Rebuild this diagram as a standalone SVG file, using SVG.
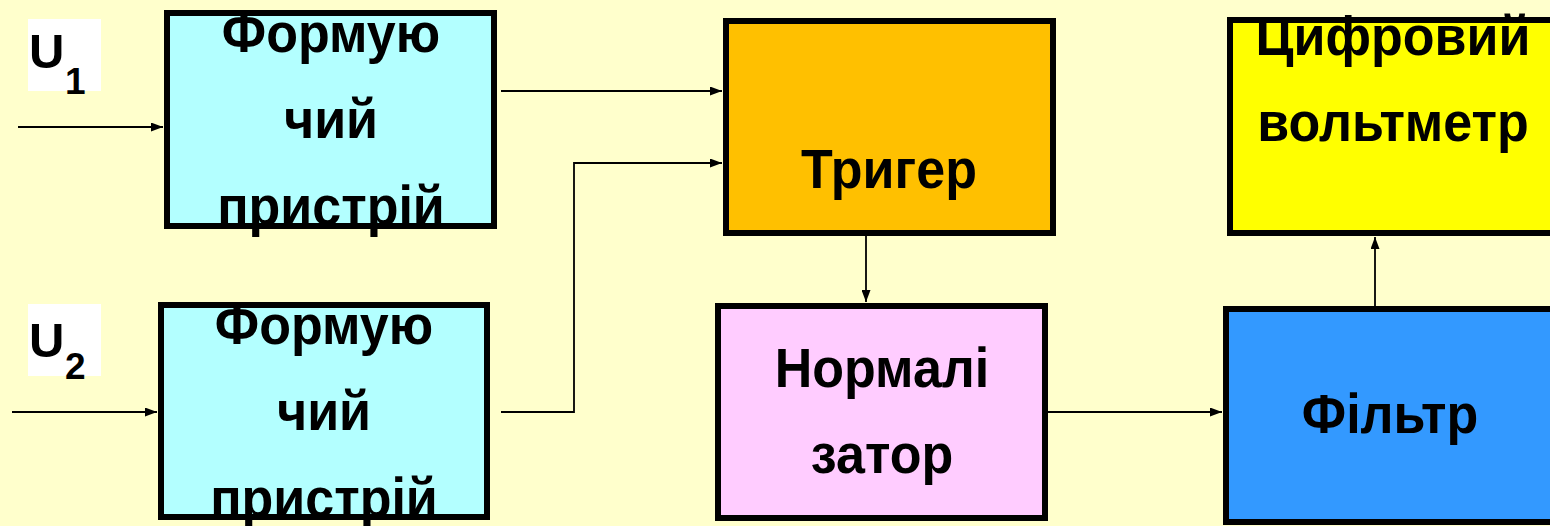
<svg xmlns="http://www.w3.org/2000/svg" width="1550" height="526" viewBox="0 0 1550 526">
<style>
.bg{fill:#FFFFCC}
.box{stroke:#000;stroke-width:6}
.border{fill:none;stroke:#000;stroke-width:6}
.t{font-family:"Liberation Sans",Arial,sans-serif;font-weight:bold;font-size:52px;fill:#000;text-anchor:middle}
.u{font-family:"Liberation Sans",Arial,sans-serif;font-weight:bold;fill:#000}
.c{fill:none;stroke:#000;stroke-width:1.8}
</style>
<defs>
<marker id="ah" markerUnits="userSpaceOnUse" markerWidth="12" markerHeight="9" refX="12" refY="4.5" orient="auto">
<path d="M0,0 L12,4.5 L0,9 z" fill="#000"/>
</marker>
</defs>
<rect class="bg" x="0" y="0" width="1550" height="526"/>

<g id="label-u1">
<rect x="28" y="19" width="73" height="72" fill="#FFFFFF"/>
<text class="u" x="29" y="68" font-size="49">U</text>
<text class="u" x="65" y="94" font-size="37">1</text>
</g>
<g id="label-u2">
<rect x="28" y="304" width="73" height="72" fill="#FFFFFF"/>
<text class="u" x="29" y="357" font-size="49">U</text>
<text class="u" x="65" y="379" font-size="37">2</text>
</g>

<g id="connectors">
<path class="c" d="M18,127 H163" marker-end="url(#ah)"/>
<path class="c" d="M12,412 H157" marker-end="url(#ah)"/>
<path class="c" d="M501,91 H722" marker-end="url(#ah)"/>
<path class="c" d="M501,412 H574 V163 H722" marker-end="url(#ah)"/>
<path class="c" d="M866,236 V302" marker-end="url(#ah)"/>
<path class="c" d="M1048,412 H1222" marker-end="url(#ah)"/>
<path class="c" d="M1375,306 V237" marker-end="url(#ah)"/>
</g>

<g id="shaper1">
<rect x="167" y="13" width="327" height="213" fill="#B3FFFF"/>
<text class="t" transform="translate(331,52) scale(1,1.07)">Формую</text>
<text class="t" transform="translate(331,138) scale(1,1.07)">чий</text>
<text class="t" transform="translate(331,225) scale(1,1.07)">пристрій</text>
<rect class="border" x="167" y="13" width="327" height="213"/>
</g>

<g id="shaper2">
<rect x="161" y="305" width="326" height="212" fill="#B3FFFF"/>
<text class="t" transform="translate(324,344) scale(1,1.07)">Формую</text>
<text class="t" transform="translate(324,430) scale(1,1.07)">чий</text>
<text class="t" transform="translate(324,517) scale(1,1.07)">пристрій</text>
<rect class="border" x="161" y="305" width="326" height="212"/>
</g>

<g id="trigger">
<rect class="box" x="726" y="21" width="327" height="212" fill="#FFC000"/>
<text class="t" transform="translate(889,188) scale(1,1.07)">Тригер</text>
</g>

<g id="normalizer">
<rect class="box" x="718" y="306" width="327" height="212" fill="#FFCCFF"/>
<text class="t" transform="translate(882,387) scale(1,1.07)">Нормалі</text>
<text class="t" transform="translate(882,473) scale(1,1.07)">затор</text>
</g>

<g id="voltmeter">
<rect class="box" x="1230" y="20" width="330" height="213" fill="#FFFF00"/>
<text class="t" transform="translate(1393,55) scale(1,1.07)">Цифровий</text>
<text class="t" transform="translate(1393,141) scale(1,1.07)">вольтметр</text>
</g>

<g id="filter">
<rect class="box" x="1226" y="309" width="330" height="213" fill="#3399FF"/>
<text class="t" transform="translate(1390,433) scale(1,1.07)">Фільтр</text>
</g>
</svg>
